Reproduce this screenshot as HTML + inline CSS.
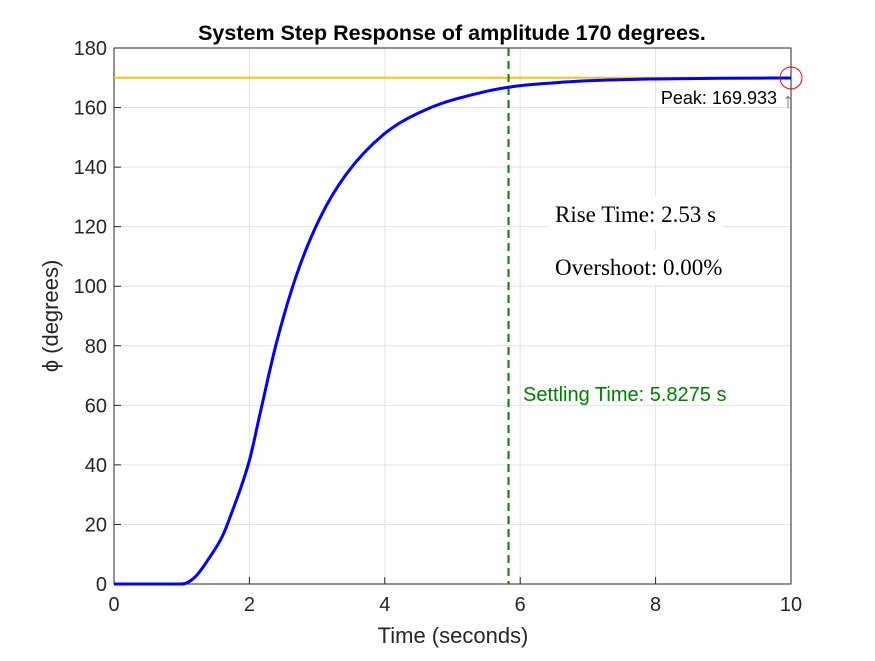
<!DOCTYPE html>
<html><head><meta charset="utf-8"><style>
body{margin:0;background:#fff}
</style></head><body>
<svg id="chart" width="875" height="656" viewBox="0 0 875 656" style="font-family:'Liberation Sans',sans-serif">
<rect width="875" height="656" fill="#fff"/>
<g id="grid"></g><g id="axes"></g><g id="marks"></g>
</svg>
<script>
const timeValues=[0,1.0,1.2,1.42,1.6,1.72,2.0,2.16,2.4,2.7,3.04,3.43,4.0,4.66,5.4,5.88,6.5,7,8,9,10];
const angleValues=[0,0,2.4,9.2,16,22.8,41.5,57.5,81,104,122.8,137.6,151.3,159.8,164.9,167,168.3,169,169.6,169.85,169.93];
const xTicks=[0,2,4,6,8,10];
const yTicks=[0,20,40,60,80,100,120,140,160,180];
const targetValue=[170];
const settlingTime=[5.8275];
const peakValue=[169.933];
const L=114,R=791,T=48,B=584;
const xs=t=>L+(t/10)*(R-L), ys=v=>B-(v/180)*(B-T);
const NS="http://www.w3.org/2000/svg";
function mk(tag,attrs,parent,txt){const e=document.createElementNS(NS,tag);for(const k in attrs)e.setAttribute(k,attrs[k]);if(txt!==undefined)e.textContent=txt;parent.appendChild(e);return e;}
const grid=document.getElementById('grid'),axes=document.getElementById('axes'),marks=document.getElementById('marks');
xTicks.forEach(t=>{
 const g=mk('line',{x1:xs(t),x2:xs(t),y1:T,y2:B,stroke:'#e3e3e3','stroke-width':1},grid);
 
 const tk=mk('line',{x1:xs(t),x2:xs(t),y1:B,y2:B-7,stroke:'#262626'},axes);
 
 const lb=mk('text',{x:xs(t),y:B+27,'text-anchor':'middle','font-size':20,fill:'#262626'},axes,String(t));
 
});
yTicks.forEach(v=>{
 const g=mk('line',{x1:L,x2:R,y1:ys(v),y2:ys(v),stroke:'#e3e3e3','stroke-width':1},grid);
 
 const tk=mk('line',{x1:L,x2:L+7,y1:ys(v),y2:ys(v),stroke:'#262626'},axes);
 
 const lb=mk('text',{x:L-7,y:ys(v)+7,'text-anchor':'end','font-size':20,fill:'#262626'},axes,String(v));
 
});
const box=mk('rect',{x:L,y:T,width:R-L,height:B-T,fill:'none',stroke:'#262626','stroke-width':1},axes);

const title=mk('text',{x:452,y:40,'text-anchor':'middle','font-size':21.5,'font-weight':'bold',fill:'#000'},axes,'System Step Response of amplitude 170 degrees.');

const xl=mk('text',{x:453,y:643,'text-anchor':'middle','font-size':22,fill:'#262626'},axes,'Time (seconds)');

const yl=mk('text',{x:0,y:0,'text-anchor':'middle','font-size':22,fill:'#262626',transform:'translate(58,316) rotate(-90)'},axes,'ϕ (degrees)');

const tl=mk('line',{x1:L,x2:R,y1:ys(targetValue[0]),y2:ys(targetValue[0]),stroke:'#FFC20E','stroke-width':2},marks);

const sl=mk('line',{x1:xs(settlingTime[0]),x2:xs(settlingTime[0]),y1:T,y2:B,stroke:'#008000','stroke-width':2,'stroke-dasharray':'8,5'},marks);

const X=timeValues.map(xs),Y=angleValues.map(ys),n=X.length;
const dl=[],m=new Array(n);
for(let i=0;i<n-1;i++)dl.push((Y[i+1]-Y[i])/(X[i+1]-X[i]));
m[0]=dl[0];m[n-1]=dl[n-2];
for(let i=1;i<n-1;i++){m[i]=(dl[i-1]*dl[i]<=0)?0:(dl[i-1]+dl[i])/2;}
for(let i=0;i<n-1;i++){if(dl[i]===0){m[i]=0;m[i+1]=0;continue;}const a=m[i]/dl[i],b=m[i+1]/dl[i],s=a*a+b*b;if(s>9){const tt=3/Math.sqrt(s);m[i]=tt*a*dl[i];m[i+1]=tt*b*dl[i];}}
let d='M'+X[0]+','+Y[0];
for(let i=0;i<n-1;i++){const h=(X[i+1]-X[i])/3;d+=` C${X[i]+h},${Y[i]+m[i]*h} ${X[i+1]-h},${Y[i+1]-m[i+1]*h} ${X[i+1]},${Y[i+1]}`;}
const cv=mk('path',{d:d,fill:'none',stroke:'#0000ff','stroke-width':3},marks);

const pk=mk('circle',{cx:xs(10),cy:ys(peakValue[0]),r:11,fill:'none',stroke:'#ff0000','stroke-width':1},marks);

const pl=mk('text',{x:777,y:104,'text-anchor':'end','font-size':18,fill:'#000'},marks,'Peak: '+peakValue[0].toFixed(3));

const pa=mk('text',{x:788,y:108,'text-anchor':'middle','font-size':22,fill:'#777'},marks,'↑');

const r1=mk('rect',{x:548,y:196,width:175,height:34,fill:'#fff'},marks);

const rt=mk('text',{x:555,y:222,'font-size':23,fill:'#000',style:"font-family:'Liberation Serif',serif"},marks,'Rise Time: 2.53 s');

const r2=mk('rect',{x:548,y:250,width:185,height:34,fill:'#fff'},marks);

const ot=mk('text',{x:555,y:275,'font-size':23,fill:'#000',style:"font-family:'Liberation Serif',serif"},marks,'Overshoot: 0.00%');

const st=mk('text',{x:523,y:401,'font-size':20,fill:'#008000'},marks,'Settling Time: '+settlingTime[0]+' s');

</script>
</body></html>
